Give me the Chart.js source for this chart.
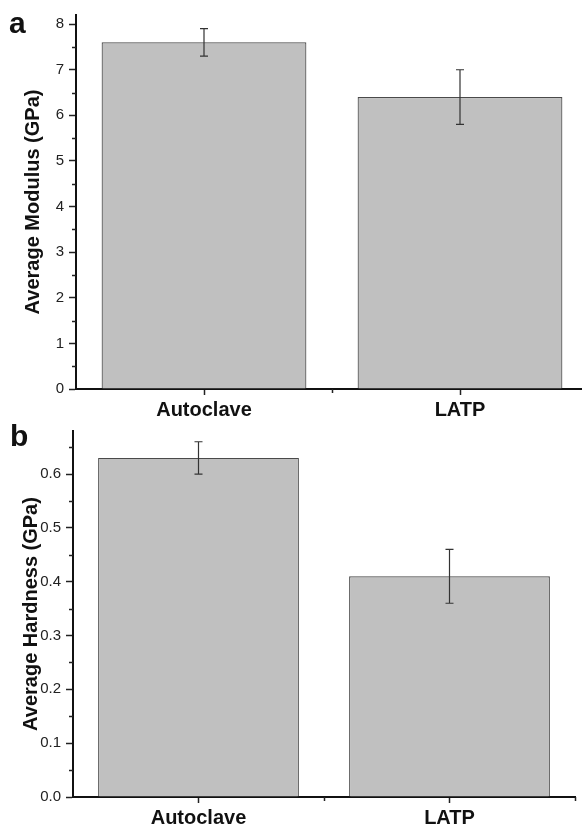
<!DOCTYPE html>
<html>
<head>
<meta charset="utf-8">
<script src="https://cdn.jsdelivr.net/npm/chart.js@4.4.1/dist/chart.umd.min.js"></script>
<style>
	html, body { margin: 0; padding: 0; background: #fff; overflow: hidden; }
	body { width: 582px; height: 828px; position: relative; font-family: 'Liberation Sans', Arial, sans-serif; }
	canvas { position: absolute; left: 0; }
	#modulusChart { top: 0; }
	#hardnessChart { top: 410px; }
	.panel { position: absolute; font-weight: bold; font-size: 30px; line-height: 1; color: #111; }
</style>
</head>
<body>
<canvas id="modulusChart" width="594" height="425"></canvas>
<canvas id="hardnessChart" width="582" height="418"></canvas>
<div class="panel" style="left:9px;top:8px;">a</div>
<div class="panel" style="left:10px;top:421px;">b</div>
<script>
const categories = ['Autoclave', 'LATP'];

const modulusMean = [7.6, 6.4];
const modulusLow = [7.3, 5.8];
const modulusHigh = [7.9, 7.0];

const hardnessMean = [0.63, 0.41];
const hardnessLow = [0.60, 0.36];
const hardnessHigh = [0.66, 0.46];

const modulusAxis = { max: 8.2, step: 1, minorStep: 0.5, decimals: 0 };
const hardnessAxis = { max: 0.68, step: 0.1, minorStep: 0.05, decimals: 1 };

(() => {
	const fontFamily = "'Liberation Sans', Arial, sans-serif";

	// error bars + minor ticks, drawn through the chart's own scales
	const extrasPlugin = {
		id: 'extras',
		afterDatasetsDraw(chart, args, opts) {
			const { ctx } = chart;
			const y = chart.scales.y;
			const meta = chart.getDatasetMeta(0);
			ctx.save();
			ctx.strokeStyle = '#333';
			ctx.lineWidth = 1.2;
			meta.data.forEach((bar, i) => {
				const yLo = y.getPixelForValue(opts.low[i]);
				const yHi = y.getPixelForValue(opts.high[i]);
				ctx.beginPath();
				ctx.moveTo(bar.x, yLo);
				ctx.lineTo(bar.x, yHi);
				ctx.moveTo(bar.x - 4, yLo);
				ctx.lineTo(bar.x + 4, yLo);
				ctx.moveTo(bar.x - 4, yHi);
				ctx.lineTo(bar.x + 4, yHi);
				ctx.stroke();
			});
			ctx.restore();
		},
		afterDraw(chart, args, opts) {
			const { ctx, chartArea } = chart;
			const y = chart.scales.y;
			const x = chart.scales.x;
			ctx.save();
			ctx.strokeStyle = '#222';
			ctx.lineWidth = 1.5;
			ctx.beginPath();
			for (let v = opts.minorStep; v < opts.max; v += opts.step) {
				const py = Math.round(y.getPixelForValue(v)) + 0.5;
				ctx.moveTo(chartArea.left - 4, py);
				ctx.lineTo(chartArea.left, py);
			}
			[0.5, 1.5].forEach(v => {
				const px = Math.round(x.getPixelForValue(v)) + 0.5;
				ctx.moveTo(px, chartArea.bottom);
				ctx.lineTo(px, chartArea.bottom + 4);
			});
			ctx.stroke();
			ctx.restore();
		}
	};

	const makeChart = (id, values, low, high, axis, title, layout) => {
		new Chart(document.getElementById(id), {
			type: 'bar',
			data: {
				labels: categories,
				datasets: [{
					data: values,
					backgroundColor: '#c0c0c0',
					borderColor: '#4a4a4a',
					borderWidth: 1.2,
					categoryPercentage: 1,
					barPercentage: 0.8
				}]
			},
			plugins: [extrasPlugin],
			options: {
				responsive: false,
				animation: false,
				layout: { padding: layout.padding },
				plugins: {
					legend: { display: false },
					tooltip: { enabled: false },
					extras: { low, high, minorStep: axis.minorStep, step: axis.step, max: axis.max }
				},
				scales: {
					x: {
						offset: true,
						grid: { display: true, drawOnChartArea: false, offset: false, tickLength: 6, tickColor: '#222', tickWidth: 1.5 },
						border: { display: true, color: '#111', width: 2 },
						ticks: { color: '#111', padding: 3, font: { family: fontFamily, size: 20, weight: 'bold' } },
						afterFit: scale => { scale.height = layout.xHeight; }
					},
					y: {
						min: 0,
						max: axis.max,
						grid: { display: true, drawOnChartArea: false, tickLength: 7, tickColor: '#222', tickWidth: 1.5 },
						border: { display: true, color: '#111', width: 2 },
						ticks: {
							stepSize: axis.step,
							includeBounds: false,
							color: '#222',
							padding: 5,
							font: { family: fontFamily, size: 15 },
							callback: v => v.toFixed(axis.decimals)
						},
						title: {
							display: true,
							text: title,
							color: '#111',
							padding: { top: layout.titleGap, bottom: 0 },
							font: { family: fontFamily, size: 20, weight: 'bold' }
						},
						afterFit: scale => { scale.width = layout.yWidth; }
					}
				}
			}
		});
	};

	makeChart('modulusChart', modulusMean, modulusLow, modulusHigh, modulusAxis, 'Average Modulus (GPa)',
		{ padding: { top: 15, right: 6, left: 0, bottom: 0 }, xHeight: 36, yWidth: 76, titleGap: 21 });

	makeChart('hardnessChart', hardnessMean, hardnessLow, hardnessHigh, hardnessAxis, 'Average Hardness (GPa)',
		{ padding: { top: 21, right: 7, left: 0, bottom: 0 }, xHeight: 31, yWidth: 73, titleGap: 19 });
})();
</script>
</body>
</html>
